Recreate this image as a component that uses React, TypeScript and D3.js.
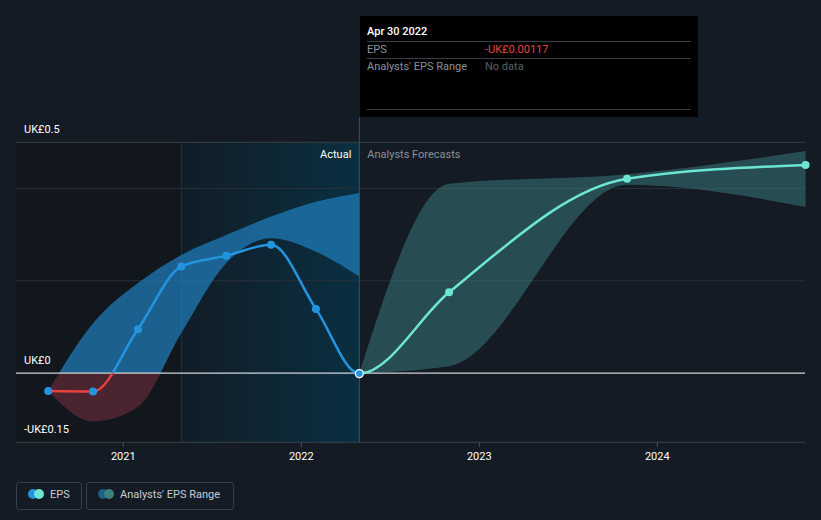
import React from "react";
import * as d3 from "d3";

const actualDates = ["2020-07-31", "2020-10-31", "2021-01-31", "2021-04-30", "2021-07-31", "2021-10-31", "2022-01-31", "2022-04-30"];
const actualEps = [-0.039, -0.040, 0.095, 0.231, 0.254, 0.278, 0.139, -0.00117];
const actualHigh = [-0.039, 0.108, 0.195, 0.256, 0.299, 0.339, 0.371, 0.39];
const actualLow = [-0.039, -0.105, -0.073, 0.087, 0.238, 0.292, 0.263, 0.209];

const forecastDates = ["2022-04-30", "2022-10-31", "2023-10-31", "2024-10-31"];
const forecastEps = [-0.00117, 0.175, 0.421, 0.451];
const forecastHigh = [0.0, 0.41, 0.431, 0.481];
const forecastLow = [0.0, 0.015, 0.408, 0.36];

const yTickValues = [0.5, 0, -0.15];
const yTickLabels = ["UK£0.5", "UK£0", "-UK£0.15"];
const gridValues = [0.5, 0.4, 0.2];
const xTickYears = [2021, 2022, 2023, 2024];

const W = 821, H = 520;
const FONT = "Roboto, 'Open Sans', sans-serif";

export default function App() {
  const parse = d3.timeParse("%Y-%m-%d");
  const x = d3.scaleTime()
    .domain([new Date(2021, 0, 1), new Date(2024, 0, 1)])
    .range([123.3, 657.3]);
  const y = d3.scaleLinear().domain([-0.15, 0.5]).range([442.3, 142.3]);
  const left = 16, right = 805;
  const splitX = x(parse("2022-04-30")!);
  const hlX = x(parse("2021-04-30")!);
  const zeroY = y(0);

  const aPts = actualDates.map((d, i) => ({ d: parse(d)!, v: actualEps[i], hi: actualHigh[i], lo: actualLow[i] }));
  const fPts = forecastDates.map((d, i) => ({ d: parse(d)!, v: forecastEps[i], hi: forecastHigh[i], lo: forecastLow[i] }));
  const allPts = [...aPts, ...fPts.slice(1)];

  const line = d3.line<any>().x(p => x(p.d)).y(p => y(p.v)).curve(d3.curveMonotoneX);
  const area = d3.area<any>().x(p => x(p.d)).y0(p => y(p.lo)).y1(p => y(p.hi)).curve(d3.curveMonotoneX);
  const fullLine = line(allPts)!;

  return (
    <svg width={W} height={H} style={{ position: "absolute", left: 0, top: 0, background: "#151b24", fontFamily: FONT }}>
      <defs>
        <linearGradient id="hl" x1="0" x2="1" y1="0" y2="0">
          <stop offset="0" stopColor="#111d27" />
          <stop offset="1" stopColor="#0a2f41" />
        </linearGradient>
        <clipPath id="aAbove"><rect x={0} y={0} width={splitX} height={zeroY} /></clipPath>
        <clipPath id="aBelow"><rect x={0} y={zeroY} width={splitX} height={H - zeroY} /></clipPath>
        <clipPath id="fore"><rect x={splitX} y={0} width={W - splitX} height={H} /></clipPath>
      </defs>
      <rect x={0} y={0} width={W} height={H} fill="#151b24" />
      <rect x={left} y={142.3} width={hlX - left} height={442.3 - 142.3} fill="#12161d" />
      <rect x={hlX} y={142.3} width={splitX - hlX} height={442.3 - 142.3} fill="url(#hl)" />
      <line x1={hlX} x2={hlX} y1={142.3} y2={442.3} stroke="#1a3444" strokeWidth={1} />

      {gridValues.map((g, i) => (
        <line key={i} x1={left} x2={right} y1={y(g)} y2={y(g)} stroke={i === 0 ? "#3a4048" : "#2a3039"} strokeWidth={1} />
      ))}
      <line x1={left} x2={right} y1={y(-0.15)} y2={y(-0.15)} stroke="#3a4048" strokeWidth={1} />
      {xTickYears.map(yr => {
        const xx = x(new Date(yr, 0, 1));
        return (
          <g key={yr}>
            <line x1={xx} x2={xx} y1={442.3} y2={447} stroke="#4a5058" />
            <text x={xx} y={460} textAnchor="middle" fill="#ffffff" fontSize={11}>{yr}</text>
          </g>
        );
      })}

      {/* actual band */}
      <path d={area(aPts)!} fill="#2080c0" fillOpacity={0.7} clipPath="url(#aAbove)" />
      <path d={area(aPts)!} fill="#823443" fillOpacity={0.5} clipPath="url(#aBelow)" />
      {/* forecast band */}
      <path d={area(fPts)!} fill="#3a7f80" fillOpacity={0.5} />

      <line x1={left} x2={right} y1={zeroY} y2={zeroY} stroke="#d0d4d8" strokeWidth={1.3} />
      <line x1={splitX} x2={splitX} y1={117} y2={442.3} stroke="#2b5a6c" strokeWidth={1} />

      {/* lines */}
      <path d={fullLine} fill="none" stroke="#2394df" strokeWidth={2.5} clipPath="url(#aAbove)" />
      <path d={fullLine} fill="none" stroke="#e8423f" strokeWidth={2.5} clipPath="url(#aBelow)" />
      <path d={fullLine} fill="none" stroke="#6ce6d3" strokeWidth={2.5} clipPath="url(#fore)" />

      {aPts.slice(0, -1).map((p, i) => (
        <circle key={i} cx={x(p.d)} cy={y(p.v)} r={4} fill="#2394df" />
      ))}
      {fPts.slice(1).map((p, i) => (
        <circle key={i} cx={x(p.d)} cy={y(p.v)} r={4} fill="#6ce6d3" />
      ))}
      <circle cx={splitX} cy={y(-0.00117)} r={4} fill="#2394df" stroke="#ffffff" strokeWidth={1.3} />

      {/* labels */}
      <text x={splitX - 8} y={158} textAnchor="end" fill="#ffffff" fontSize={11}>Actual</text>
      <text x={splitX + 8} y={158} fill="#8a9099" fontSize={11}>Analysts Forecasts</text>
      {yTickValues.map((v, i) => (
        <text key={i} x={24} y={y(v) - 9} fill="#ffffff" fontSize={11}>{yTickLabels[i]}</text>
      ))}

      {/* tooltip */}
      <rect x={360} y={16} width={338} height={101} fill="#000000" />
      <text x={367} y={35} fill="#ffffff" fontSize={11} fontWeight={500}>Apr 30 2022</text>
      <line x1={367} x2={691} y1={41.5} y2={41.5} stroke="#3a3f45" />
      <text x={367} y={53} fill="#8a9099" fontSize={11}>EPS</text>
      <text x={485} y={53} fill="#e8423f" fontSize={11}>-UK£0.00117</text>
      <line x1={367} x2={691} y1={58.5} y2={58.5} stroke="#3a3f45" />
      <text x={367} y={70} fill="#8a9099" fontSize={11}>Analysts' EPS Range</text>
      <text x={485} y={70} fill="#5a6068" fontSize={11}>No data</text>
      <line x1={367} x2={691} y1={109.5} y2={109.5} stroke="#3a3f45" />

      {/* legend */}
      <rect x={16.5} y={482.5} width={65} height={27} rx={3} fill="none" stroke="#3a4048" />
      <circle cx={33} cy={494} r={5} fill="#2394df" />
      <circle cx={39} cy={494} r={5} fill="#6ce6d3" />
      <text x={50} y={498} fill="#c8ccd2" fontSize={11}>EPS</text>
      <rect x={86.5} y={482.5} width={147} height={27} rx={3} fill="none" stroke="#3a4048" />
      <circle cx={103} cy={494} r={5} fill="#1f5f88" />
      <circle cx={109} cy={494} r={5} fill="#3b8079" />
      <text x={120} y={498} fill="#c8ccd2" fontSize={11}>Analysts' EPS Range</text>
    </svg>
  );
}
